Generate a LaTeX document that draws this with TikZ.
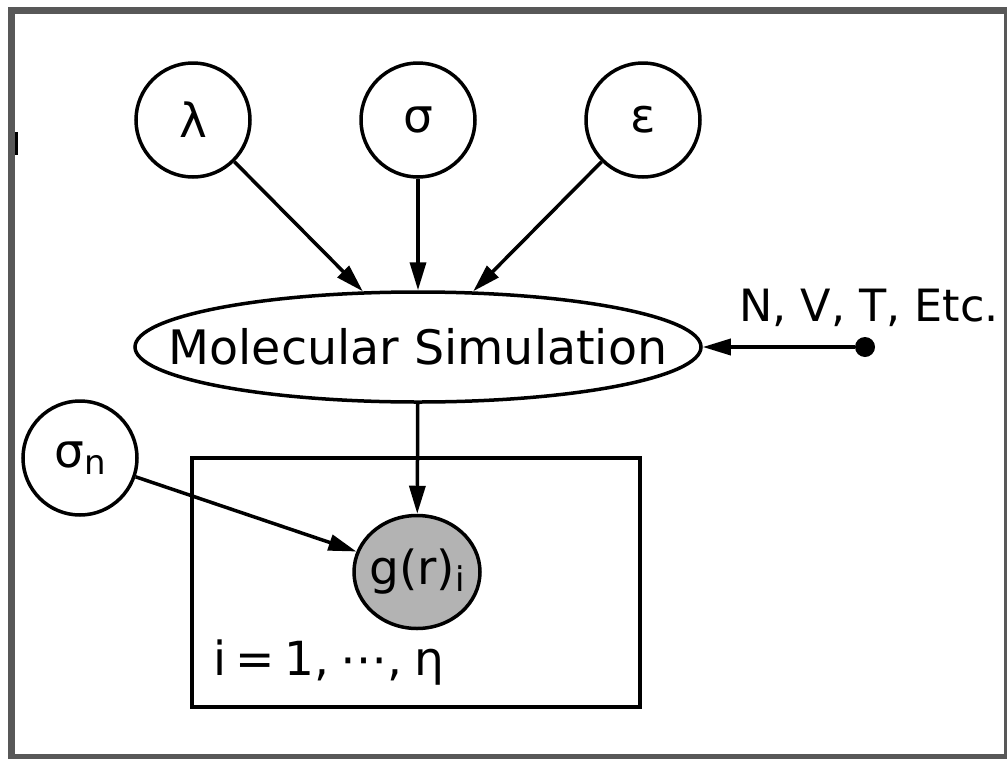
\documentclass[tikz,border=0pt]{standalone}
\usepackage{fontspec}
\setmainfont{DejaVu Sans}
\usetikzlibrary{shapes.geometric,arrows.meta}
\definecolor{framegray}{RGB}{88,88,88}
\definecolor{obsgray}{RGB}{179,179,179}
\begin{document}
\begin{tikzpicture}[x=1pt,y=-1pt,
 bigfont/.style={font=\fontsize{47}{50}\selectfont},
 var/.style={circle,draw,line width=3.5pt,minimum size=114pt,inner sep=0pt,bigfont},
 edge/.style={line width=3.5pt,-{Triangle[length=28pt,width=16pt]}},
]
\useasboundingbox (0,0) rectangle (1007,758);
\begin{scope}
\clip (0,0) rectangle (1007,758);
\draw[line width=7pt,framegray] (11.5,10.5) rectangle (1007.5,757.5);
\end{scope}
\fill (15,132) rectangle (18,155);
% plate
\draw[line width=3.5pt] (192,458) rectangle (640,707);
\node[bigfont,anchor=base west,inner sep=0pt] (plate) at (213,675) {i\hspace{0.2em}=\hspace{0.2em}1,\hspace{0.25em}⋯,\hspace{0.25em}η};
% nodes
\node[var] (lam) at (193,120) {λ};
\node[var] (sig) at (418,120) {σ};
\node[var] (eps) at (643,120) {ε};
\node[ellipse,draw,line width=3.5pt,minimum width=566pt,minimum height=110pt,inner sep=0pt,
  label={[font=\fontsize{47.5}{50}\selectfont]center:Molecular Simulation}] (ms) at (418,347) {};
\node[circle,fill,minimum size=20pt,inner sep=0pt] (dot) at (865,347) {};
\node[font=\fontsize{44.5}{48}\selectfont,anchor=south,inner sep=0pt] (nvt) at (869,327) {N, V, T, Etc.};
\node[var] (sn) at (80,458) {σ{\fontsize{34}{36}\selectfont\raisebox{-7pt}{n}}};
\node[ellipse,draw,line width=3.5pt,fill=obsgray,minimum width=126pt,minimum height=113pt,inner sep=0pt,
  label={[bigfont]center:g(r){\fontsize{34}{36}\selectfont\raisebox{-7pt}{i}}}] (g) at (417,572) {};
% edges
\draw[edge] (lam) -- (ms);
\draw[edge] (sig) -- (ms);
\draw[edge] (eps) -- (ms);
\draw[edge] (dot) -- (ms);
\draw[edge] (ms) -- (g);
\draw[edge] (sn) -- (g);
\end{tikzpicture}
\end{document}
